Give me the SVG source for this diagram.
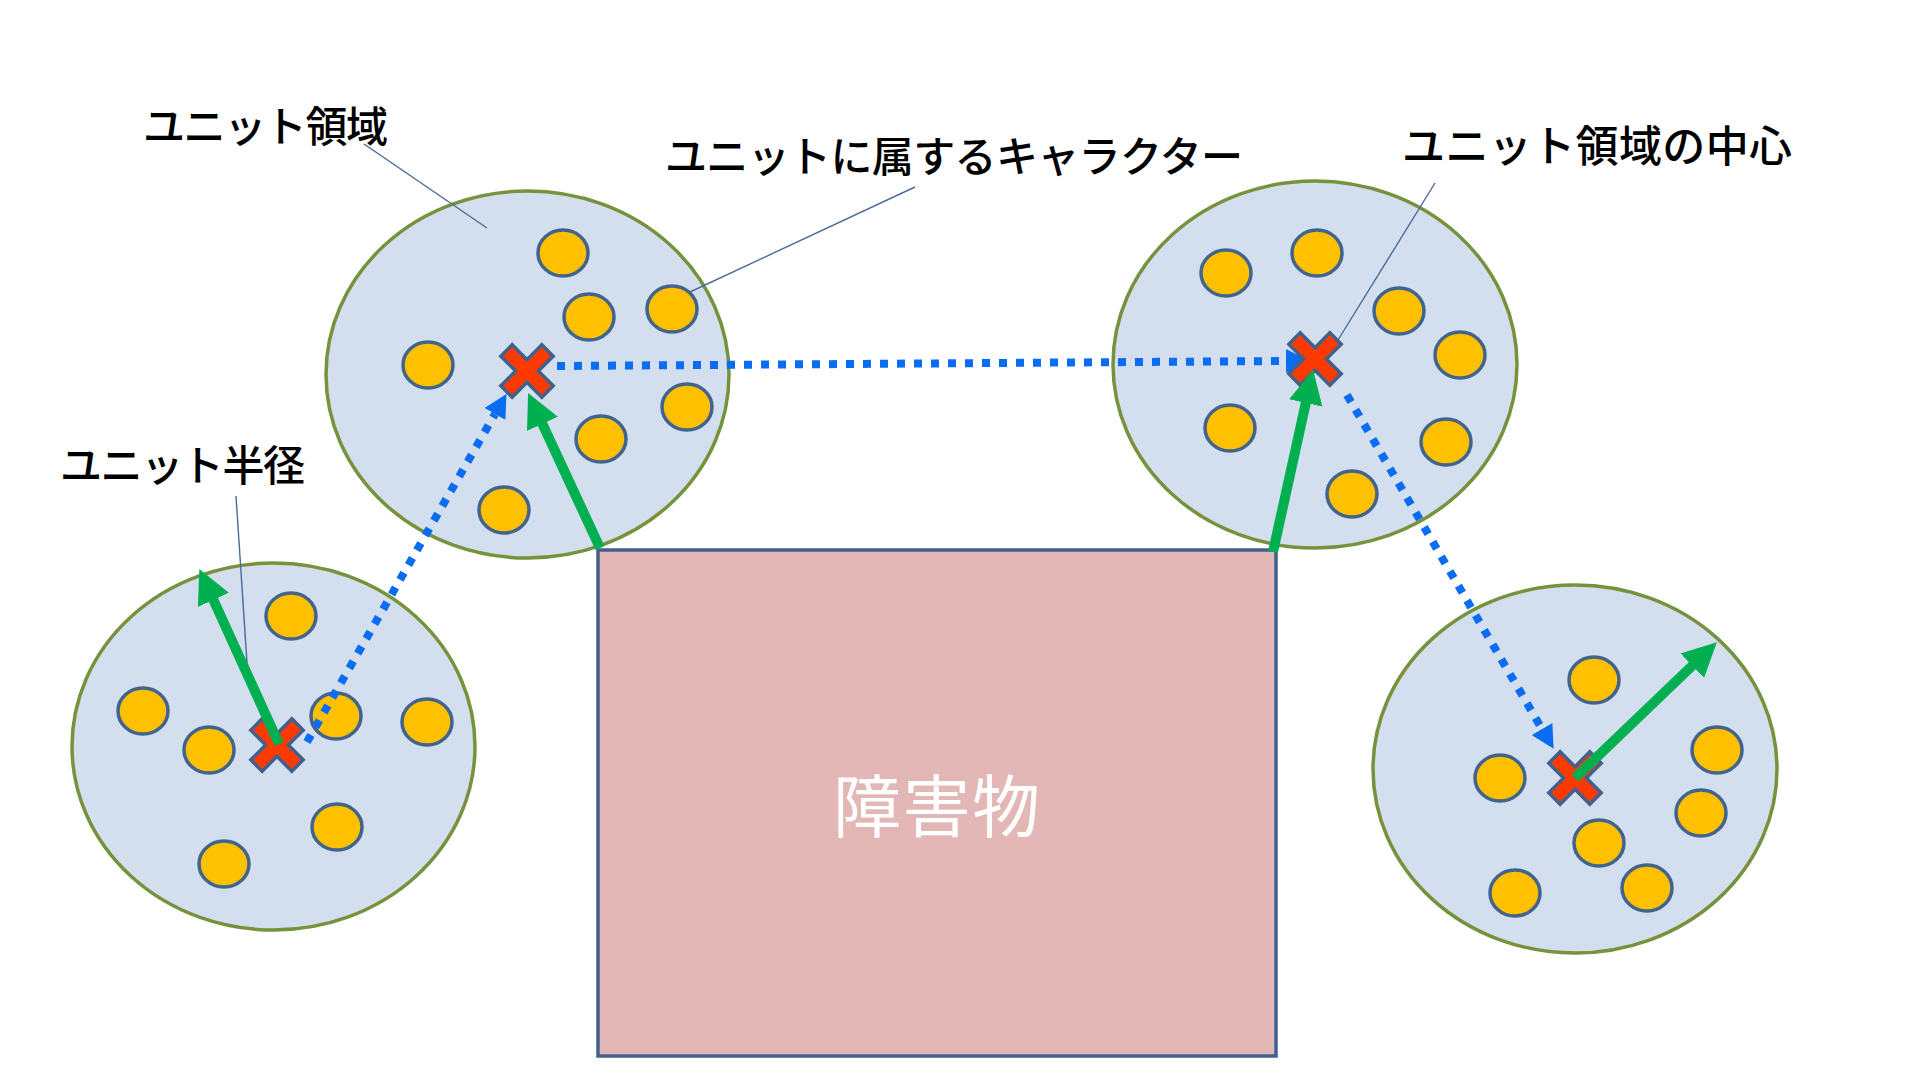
<svg xmlns="http://www.w3.org/2000/svg" width="1920" height="1080" viewBox="0 0 1920 1080">
<style>
.area{fill:#D3DFEE;stroke:#76923C;stroke-width:3.5}
.chr{fill:#FFC000;stroke:#41648F;stroke-width:3.5}
.ctr{fill:#FF3A00;stroke:#41618C;stroke-width:3.5;stroke-linejoin:miter}
.move{fill:none;stroke:#0A6CF0;stroke-width:8;stroke-dasharray:8 9}
.rad{fill:none;stroke:#00B050;stroke-width:10}
.lead{fill:none;stroke:#4A6A9A;stroke-width:1.4}
.lbl{font-family:"Noto Sans CJK JP","Noto Sans",sans-serif;font-size:42px;font-weight:500;fill:#000}
</style>
<defs>
<marker id="bhead" markerUnits="userSpaceOnUse" markerWidth="26" markerHeight="28" viewBox="0 -14 26 28" refX="0" refY="0" orient="auto">
<path d="M0,-12 L23,0 L0,12 z" fill="#0A6CF0"/>
</marker>
<marker id="ghead" markerUnits="userSpaceOnUse" markerWidth="40" markerHeight="40" viewBox="0 -20 40 40" refX="1" refY="0" orient="auto">
<path d="M0,-17 L34,0 L0,17 z" fill="#00B050"/>
</marker>
<path id="xmark" d="M-8,-29 L8,-29 L8,-8 L29,-8 L29,8 L8,8 L8,29 L-8,29 L-8,8 L-29,8 L-29,-8 L-8,-8 z" transform="rotate(45)"/>
</defs>
<rect width="1920" height="1080" fill="#FFFFFF"/>

<g id="obstacle">
<rect x="598" y="550" width="678" height="506" fill="#E4B7B7" stroke="#41618C" stroke-width="3.5"/>
<text x="833" y="832" font-family="'Noto Sans CJK JP','Noto Sans',sans-serif" font-size="68" fill="#FFFFFF" textLength="207" lengthAdjust="spacing">障害物</text>
</g>

<g id="unit1">
<ellipse class="area" cx="527.5" cy="374.5" rx="201.5" ry="183.5"/>
<ellipse class="chr" cx="563" cy="253" rx="25" ry="23"/>
<ellipse class="chr" cx="589" cy="317" rx="25" ry="23"/>
<ellipse class="chr" cx="672" cy="309" rx="25" ry="23"/>
<ellipse class="chr" cx="428" cy="365" rx="25" ry="23"/>
<ellipse class="chr" cx="687" cy="407" rx="25" ry="23"/>
<ellipse class="chr" cx="601" cy="439" rx="25" ry="23"/>
<ellipse class="chr" cx="504" cy="510" rx="25" ry="23"/>
</g>

<g id="unit2">
<ellipse class="area" cx="1315" cy="364.5" rx="202" ry="183.5"/>
<ellipse class="chr" cx="1226" cy="273" rx="25" ry="23"/>
<ellipse class="chr" cx="1317" cy="253" rx="25" ry="23"/>
<ellipse class="chr" cx="1399" cy="311" rx="25" ry="23"/>
<ellipse class="chr" cx="1460" cy="355" rx="25" ry="23"/>
<ellipse class="chr" cx="1230" cy="428" rx="25" ry="23"/>
<ellipse class="chr" cx="1446" cy="442" rx="25" ry="23"/>
<ellipse class="chr" cx="1352" cy="494" rx="25" ry="23"/>
</g>

<g id="unit3">
<ellipse class="area" cx="273.5" cy="746.5" rx="201.5" ry="183.5"/>
<ellipse class="chr" cx="291" cy="616" rx="25" ry="23"/>
<ellipse class="chr" cx="143" cy="711" rx="25" ry="23"/>
<ellipse class="chr" cx="209" cy="750" rx="25" ry="23"/>
<ellipse class="chr" cx="336" cy="716" rx="25" ry="23"/>
<ellipse class="chr" cx="427" cy="722" rx="25" ry="23"/>
<ellipse class="chr" cx="337" cy="827" rx="25" ry="23"/>
<ellipse class="chr" cx="224" cy="864" rx="25" ry="23"/>
</g>

<g id="unit4">
<ellipse class="area" cx="1575" cy="769" rx="202" ry="184"/>
<ellipse class="chr" cx="1594" cy="680" rx="25" ry="23"/>
<ellipse class="chr" cx="1500" cy="778" rx="25" ry="23"/>
<ellipse class="chr" cx="1717" cy="750" rx="25" ry="23"/>
<ellipse class="chr" cx="1701" cy="813" rx="25" ry="23"/>
<ellipse class="chr" cx="1599" cy="843" rx="25" ry="23"/>
<ellipse class="chr" cx="1515" cy="893" rx="25" ry="23"/>
<ellipse class="chr" cx="1647" cy="888" rx="25" ry="23"/>
</g>

<g id="connectors">
<path class="move" d="M307,742 L495,414" marker-end="url(#bhead)"/>
<path class="move" d="M557,366 L1286,361" marker-end="url(#bhead)"/>
<path class="move" d="M1347,395 L1542,729" marker-end="url(#bhead)"/>
</g>

<g id="centers">
<use href="#xmark" class="ctr" transform="translate(527,371)"/>
<use href="#xmark" class="ctr" transform="translate(1315,359)"/>
<use href="#xmark" class="ctr" transform="translate(277,745)"/>
<use href="#xmark" class="ctr" transform="translate(1575,778)"/>
</g>

<g id="radius-arrows">
<path class="rad" d="M600,548 L542,423" marker-end="url(#ghead)"/>
<path class="rad" d="M1273,552 L1306,402" marker-end="url(#ghead)"/>
<path class="rad" d="M279,744 L213,599" marker-end="url(#ghead)"/>
<path class="rad" d="M1575,778 L1693,665" marker-end="url(#ghead)"/>
</g>

<g id="leaders">
<path class="lead" d="M364,144 L487,228"/>
<path class="lead" d="M915,187 L690,292"/>
<path class="lead" d="M1435,183 L1338,340"/>
<path class="lead" d="M236,496 L247,663"/>
</g>

<g id="labels">
<text class="lbl" x="143" y="142" textLength="245" lengthAdjust="spacing">ユニット領域</text>
<text class="lbl" x="665" y="172" textLength="578" lengthAdjust="spacing">ユニットに属するキャラクター</text>
<text class="lbl" x="1402" y="162" textLength="390" lengthAdjust="spacing" style="font-size:43px">ユニット領域の中心</text>
<text class="lbl" x="60" y="481" textLength="245" lengthAdjust="spacing">ユニット半径</text>
</g>
</svg>
